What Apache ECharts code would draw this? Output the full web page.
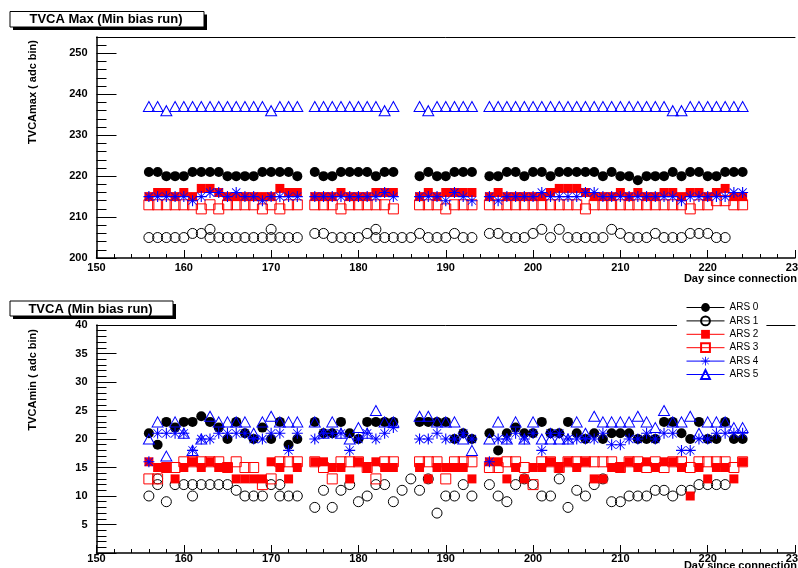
<!DOCTYPE html>
<html><head><meta charset="utf-8">
<script src="https://cdn.jsdelivr.net/npm/echarts/dist/echarts.min.js"></script>
<style>html,body{margin:0;padding:0;background:#fff}#c{width:798px;height:568px}</style>
</head><body><div id="c"></div>
<script>
// days (segments: 156-173, 175-184, 185-186, 187-193, 195-224)
const days = [156,157,158,159,160,161,162,163,164,165,166,167,168,169,170,171,172,173,
  175,176,177,178,179,180,181,182,183,184,
  185,186,
  187,188,189,190,191,192,193,
  195,196,197,198,199,200,201,202,203,204,205,206,207,208,209,210,211,212,213,214,215,216,217,218,219,220,221,222,223,224];
const seriesNames = ['ARS 0','ARS 1','ARS 2','ARS 3','ARS 4','ARS 5'];
const xTicks = [150,160,170,180,190,200,210,220,230];

// ---- Top panel: TVCA max ----
const maxArs0 = [221,221,220,220,220,221,221,221,221,220,220,220,220,221,221,221,221,220,
  221,220,220,221,221,221,221,220,221,221,
  null,null,
  220,221,220,220,221,221,221,
  220,220,221,221,220,221,221,220,221,221,221,221,221,220,221,220,220,219,220,220,220,221,220,221,221,220,220,221,221,221];
const maxArs1 = [205,205,205,205,205,206,206,207,205,205,205,205,205,205,207,205,205,205,
  206,206,205,205,205,205,206,207,205,205,
  205,205,
  206,205,205,205,206,205,205,
  206,206,205,205,205,206,207,205,207,205,205,205,205,205,207,206,205,205,205,206,205,205,205,206,206,206,205,205,null,null];
const maxArs1Extra = [[163,205],[170,205],[182,205]];
const maxArs2 = [215,216,216,215,216,215,217,217,216,215,215,215,215,215,215,217,216,216,
  215,215,215,216,215,215,215,216,216,216,
  null,null,
  215,216,215,216,216,216,216,
  215,216,215,215,215,215,215,216,217,217,217,216,215,215,215,216,215,216,215,215,216,216,215,216,216,215,216,217,215,215];
const maxArs3 = [213,213,213,213,213,213,212,213,212,213,213,213,213,212,213,212,213,213,
  213,213,213,212,213,213,213,213,213,212,
  null,null,
  213,213,213,212,213,213,213,
  213,213,213,213,213,213,213,213,213,213,213,212,213,213,213,213,213,213,213,213,213,213,213,212,213,213,214,214,213,213];
const maxArs4 = [215,215,215,215,215,214,215,216,216,215,216,215,215,214,215,215,215,215,
  215,215,215,215,215,215,215,215,216,215,
  null,null,
  215,215,215,214,216,215,214,
  215,214,215,215,215,215,216,215,215,215,215,216,216,215,215,215,215,215,215,215,215,215,214,215,215,215,215,215,216,216];
const maxArs5 = [237,237,236,237,237,237,237,237,237,237,237,237,237,237,236,237,237,237,
  237,237,237,237,237,237,237,237,236,237,
  null,null,
  237,236,237,237,237,237,237,
  237,237,237,237,237,237,237,237,237,237,237,237,237,237,237,237,237,237,237,237,237,236,236,237,237,237,237,237,237,237];

// ---- Bottom panel: TVCA min ----
const minArs0 = [21,19,23,22,23,23,24,23,22,20,23,21,20,22,20,23,19,20,
  23,21,21,23,21,20,23,23,23,23,
  null,null,
  23,23,23,23,20,21,20,
  21,18,21,22,21,21,23,21,21,23,21,20,21,20,21,21,21,20,20,20,23,23,21,20,23,20,20,23,20,20];
const minArs1 = [10,13,9,12,12,10,12,12,12,12,11,10,10,10,12,10,10,10,
  8,11,8,11,12,9,10,12,12,9,
  11,13,
  11,13,7,10,10,12,10,
  12,10,9,12,13,12,10,10,13,8,11,10,12,13,9,9,10,10,10,11,11,10,11,11,12,12,12,12,null,null];
const minArs1Extra = [[157,12],[161,12],[171,12]];
const minArs2 = [16,15,15,13,15,16,15,16,15,15,13,13,13,13,16,15,13,15,
  16,16,15,15,13,16,15,16,15,15,
  null,null,
  15,13,15,15,15,15,13,
  16,16,13,15,13,15,15,16,15,16,15,16,13,13,15,15,16,15,16,15,16,16,15,10,15,13,15,15,13,16];
const minArs3 = [13,13,15,15,16,16,16,16,16,15,16,15,15,12,13,16,16,16,
  16,15,13,16,16,16,15,13,16,16,
  null,null,
  16,16,16,13,16,16,16,
  15,15,16,16,15,12,16,16,15,16,16,16,16,16,16,15,16,16,15,16,15,16,16,15,16,16,16,16,15,16];
const minArs4 = [16,21,21,21,21,18,20,20,21,21,21,21,20,20,21,21,18,21,
  20,21,21,21,18,20,21,20,21,22,
  null,null,
  20,20,21,20,20,21,20,
  16,20,20,21,20,21,18,21,21,20,20,20,20,21,19,19,20,20,21,20,21,21,18,18,20,20,21,21,21,21];
const minArs5 = [20,23,17,23,21,18,20,24,23,23,23,23,21,23,24,23,23,23,
  23,21,23,21,20,22,21,25,23,23,
  null,null,
  24,24,23,23,23,20,18,
  20,23,20,23,20,23,20,20,20,20,23,21,24,23,23,23,23,24,23,22,25,23,23,24,21,23,23,23,22,22];

const FONT = '"Liberation Sans", Arial, Helvetica, sans-serif';
const ASTERISK = 'path://M0 9L20 9L20 11L0 11Z M9 0L11 0L11 20L9 20Z M3 2L18 17L17 18L2 3Z M18 3L3 18L2 17L17 2Z';
const styles = [
  {symbol:'circle', size:10, color:'#000', filled:true},
  {symbol:'circle', size:10, color:'#000', filled:false},
  {symbol:'rect', size:9, color:'#ff0000', filled:true},
  {symbol:'rect', size:10, color:'#ff0000', filled:false},
  {symbol:ASTERISK, size:11, color:'#0000ff', filled:true},
  {symbol:'triangle', size:[11,10], color:'#0000ff', filled:false}
];

function pts(vals, extra) {
  const out = [];
  days.forEach((d, i) => { if (vals[i] != null) out.push([d, vals[i]]); });
  (extra || []).forEach(p => out.push(p));
  return out;
}
function mk(idx, vals, g, extra) {
  const s = styles[idx];
  return {
    type: 'line', name: seriesNames[idx], xAxisIndex: g, yAxisIndex: g,
    data: pts(vals, extra), symbol: s.symbol, symbolSize: s.size, showAllSymbol: true,
    lineStyle: {color: s.color, opacity: 0, width: 1},
    itemStyle: s.filled ? {color: s.color, borderWidth: 0, opacity: 1}
                        : {color: 'rgba(255,255,255,0)', borderColor: s.color, borderWidth: 1, opacity: 1},
    emphasis: {disabled: true}, silent: true, animation: false, z: 2
  };
}

function xAx(g, margin) {
  return {
    type: 'value', gridIndex: g, min: xTicks[0], max: xTicks[xTicks.length-1], interval: 10,
    axisLine: {show: true, onZero: false, lineStyle: {color: '#000', width: 1.5}},
    axisTick: {show: true, inside: true, length: 8, lineStyle: {color: '#000', width: 1}},
    minorTick: {show: true, splitNumber: 5, length: 4, lineStyle: {color: '#000', width: 1}},
    axisLabel: {color: '#000', fontWeight: 'bold', fontSize: 11, fontFamily: FONT, margin: margin},
    splitLine: {show: false}, minorSplitLine: {show: false}
  };
}
function xTop(g) {
  return {
    type: 'value', gridIndex: g, position: 'top', min: xTicks[0], max: xTicks[xTicks.length-1],
    axisLine: {show: true, onZero: false, lineStyle: {color: '#000', width: 1}},
    axisTick: {show: false}, axisLabel: {show: false}, splitLine: {show: false}, minorTick: {show: false}
  };
}
function yAx(g, min, max, interval, showMin, showMax) {
  return {
    type: 'value', gridIndex: g, min: min, max: max, interval: interval,
    axisLine: {show: true, onZero: false, lineStyle: {color: '#000', width: 1.5}},
    axisTick: {show: true, inside: true, length: 20, lineStyle: {color: '#000', width: 1}},
    minorTick: {show: true, splitNumber: 5, length: 10, lineStyle: {color: '#000', width: 1}},
    axisLabel: {color: '#000', fontWeight: 'bold', fontSize: 11, fontFamily: FONT, margin: 9, showMinLabel: showMin, showMaxLabel: showMax},
    splitLine: {show: false}, minorSplitLine: {show: false}
  };
}

function titleBox(x, y, w, h, text) {
  return {
    type: 'group', children: [
      {type: 'rect', shape: {x: x + 3, y: y + 3, width: w, height: h}, style: {fill: '#000'}},
      {type: 'rect', shape: {x: x, y: y, width: w, height: h}, style: {fill: '#fff', stroke: '#000', lineWidth: 1}},
      {type: 'text', x: x + w / 2 - 1, y: y + h / 2 + 0.5, style: {text: text, fill: '#000', font: 'bold 13px ' + FONT, textAlign: 'center', textVerticalAlign: 'middle'}}
    ]
  };
}
function vTitle(x, y, text) {
  return {type: 'text', x: x, y: y, rotation: Math.PI / 2,
    style: {text: text, fill: '#000', font: 'bold 11px ' + FONT, textAlign: 'right', textVerticalAlign: 'middle'}};
}
function xTitle(x, y, text) {
  return {type: 'text', x: x, y: y,
    style: {text: text, fill: '#000', font: 'bold 11px ' + FONT, textAlign: 'right', textVerticalAlign: 'middle'}};
}

const chart = echarts.init(document.getElementById('c'), null, {renderer: 'canvas'});
chart.setOption({
  animation: false,
  backgroundColor: '#fff',
  grid: [
    {left: 96.5, right: 3, top: 37, height: 221, show: false, containLabel: false, outerBoundsMode: 'none'},
    {left: 96.5, right: 3, top: 325, height: 228, show: false, containLabel: false, outerBoundsMode: 'none'}
  ],
  xAxis: [xAx(0, 4), xAx(1, 0), xTop(0), xTop(1)],
  yAxis: [yAx(0, 200, 254, 10, true, false), yAx(1, 0, 40, 5, false, true)],
  legend: {
    show: true, orient: 'vertical', left: 677, top: 299, padding: [3, 8, 3, 9],
    backgroundColor: '#fff', itemWidth: 38, itemHeight: 11, itemGap: 2.4,
    data: seriesNames, selectedMode: false,
    lineStyle: {opacity: 1, width: 1},
    textStyle: {color: '#000', fontSize: 10, fontFamily: FONT, lineHeight: 11},
    z: 10
  },
  graphic: [
    titleBox(10, 11.5, 194, 15.5, 'TVCA Max (Min bias run)'),
    titleBox(10, 301, 163, 15, 'TVCA (Min bias run)'),
    vTitle(33, 40, 'TVCAmax ( adc bin)'),
    vTitle(33, 329, 'TVCAmin ( adc bin)'),
    xTitle(797, 279, 'Day since connection'),
    xTitle(797, 566, 'Day since connection')
  ],
  series: [
    mk(0, maxArs0, 0), mk(1, maxArs1, 0, maxArs1Extra), mk(2, maxArs2, 0), mk(3, maxArs3, 0), mk(4, maxArs4, 0), mk(5, maxArs5, 0),
    mk(0, minArs0, 1), mk(1, minArs1, 1, minArs1Extra), mk(2, minArs2, 1), mk(3, minArs3, 1), mk(4, minArs4, 1), mk(5, minArs5, 1)
  ]
});
</script>
</body></html>
